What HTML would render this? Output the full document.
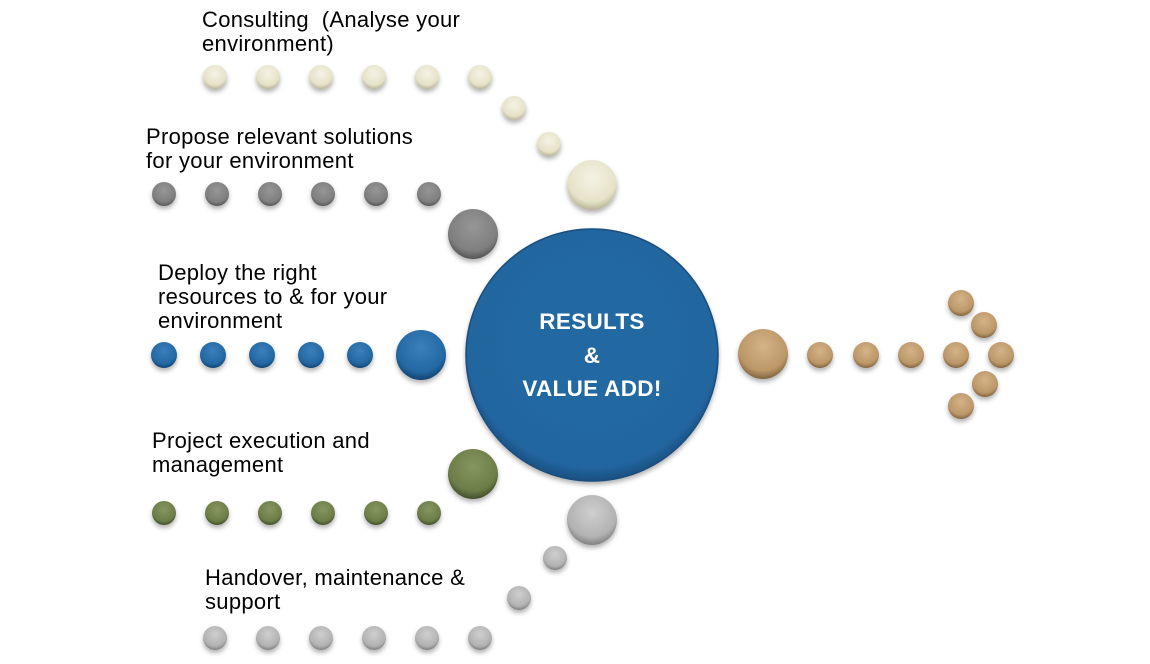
<!DOCTYPE html>
<html><head><meta charset="utf-8"><style>
html,body{margin:0;padding:0;background:#fff;}
svg{display:block;}
text{font-family:"Liberation Sans",Arial,sans-serif;font-size:22px;letter-spacing:0.3px;fill:#000;}
</style></head><body>
<svg width="1150" height="664" viewBox="0 0 1150 664" xmlns="http://www.w3.org/2000/svg">
<defs>
<filter id="sh" x="-30%" y="-30%" width="160%" height="170%"><feDropShadow dx="0" dy="3" stdDeviation="2.5" flood-color="#000" flood-opacity="0.3"/></filter>
<radialGradient id="cream" cx="50%" cy="35%" r="65%"><stop offset="0" stop-color="#f4f2e4"/><stop offset="0.75" stop-color="#e6e2c8"/><stop offset="1" stop-color="#b9b497"/></radialGradient>
<radialGradient id="gray" cx="50%" cy="35%" r="65%"><stop offset="0" stop-color="#969696"/><stop offset="0.75" stop-color="#7f7f7f"/><stop offset="1" stop-color="#555"/></radialGradient>
<radialGradient id="blue" cx="50%" cy="35%" r="65%"><stop offset="0" stop-color="#3a7fbb"/><stop offset="0.75" stop-color="#2468a3"/><stop offset="1" stop-color="#124470"/></radialGradient>
<radialGradient id="green" cx="50%" cy="35%" r="65%"><stop offset="0" stop-color="#869660"/><stop offset="0.75" stop-color="#6c7d48"/><stop offset="1" stop-color="#424f2a"/></radialGradient>
<radialGradient id="lgray" cx="50%" cy="35%" r="65%"><stop offset="0" stop-color="#cfcfcf"/><stop offset="0.75" stop-color="#b2b2b2"/><stop offset="1" stop-color="#808080"/></radialGradient>
<radialGradient id="tan" cx="50%" cy="35%" r="65%"><stop offset="0" stop-color="#d4b387"/><stop offset="0.75" stop-color="#bb9768"/><stop offset="1" stop-color="#826440"/></radialGradient>
<radialGradient id="main" cx="50%" cy="45%" r="55%"><stop offset="0" stop-color="#2468a2"/><stop offset="0.9" stop-color="#2266a0"/><stop offset="1" stop-color="#1a4f80"/></radialGradient>
</defs>

<g filter="url(#sh)">
<g fill="url(#cream)">
<circle cx="215" cy="77" r="12"/><circle cx="268" cy="77" r="12"/><circle cx="321" cy="77" r="12"/><circle cx="374" cy="77" r="12"/><circle cx="427" cy="77" r="12"/><circle cx="480" cy="77" r="12"/>
<circle cx="514" cy="108" r="12"/><circle cx="549" cy="144" r="12"/><circle cx="592" cy="185" r="25"/>
</g>
<g fill="url(#gray)">
<circle cx="164" cy="194" r="12"/><circle cx="217" cy="194" r="12"/><circle cx="270" cy="194" r="12"/><circle cx="323" cy="194" r="12"/><circle cx="376" cy="194" r="12"/><circle cx="429" cy="194" r="12"/>
<circle cx="473" cy="234" r="25"/>
</g>
<g fill="url(#blue)">
<circle cx="164" cy="355" r="13"/><circle cx="213" cy="355" r="13"/><circle cx="262" cy="355" r="13"/><circle cx="311" cy="355" r="13"/><circle cx="360" cy="355" r="13"/>
<circle cx="421" cy="355" r="25"/>
</g>
<g fill="url(#green)">
<circle cx="164" cy="513" r="12"/><circle cx="217" cy="513" r="12"/><circle cx="270" cy="513" r="12"/><circle cx="323" cy="513" r="12"/><circle cx="376" cy="513" r="12"/><circle cx="429" cy="513" r="12"/>
<circle cx="473" cy="474" r="25"/>
</g>
<g fill="url(#lgray)">
<circle cx="215" cy="638" r="12"/><circle cx="268" cy="638" r="12"/><circle cx="321" cy="638" r="12"/><circle cx="374" cy="638" r="12"/><circle cx="427" cy="638" r="12"/><circle cx="480" cy="638" r="12"/>
<circle cx="519" cy="598" r="12"/><circle cx="555" cy="558" r="12"/><circle cx="592" cy="520" r="25"/>
</g>
<g fill="url(#tan)">
<circle cx="763" cy="354" r="25"/>
<circle cx="820" cy="355" r="13"/><circle cx="866" cy="355" r="13"/><circle cx="911" cy="355" r="13"/><circle cx="956" cy="355" r="13"/><circle cx="1001" cy="355" r="13"/>
<circle cx="961" cy="303" r="13"/><circle cx="984" cy="325" r="13"/><circle cx="985" cy="384" r="13"/><circle cx="961" cy="406" r="13"/>
</g>
<circle cx="592" cy="355" r="126" fill="url(#main)" stroke="#1a4d7c" stroke-width="1.5"/>
</g>

<g text-anchor="middle">
<text x="592" y="329" style="fill:#fff;font-weight:bold;font-size:22.5px">RESULTS</text>
<text x="592" y="363" style="fill:#fff;font-weight:bold;font-size:22.5px">&amp;</text>
<text x="592" y="396" style="fill:#fff;font-weight:bold;font-size:22.5px">VALUE ADD!</text>
</g>

<text x="202" y="27" xml:space="preserve">Consulting  (Analyse your</text>
<text x="202" y="51">environment)</text>
<text x="146" y="144">Propose relevant solutions</text>
<text x="146" y="168">for your environment</text>
<text x="158" y="280">Deploy the right</text>
<text x="158" y="304">resources to &amp; for your</text>
<text x="158" y="328">environment</text>
<text x="152" y="448">Project execution and</text>
<text x="152" y="472">management</text>
<text x="205" y="585">Handover, maintenance &amp;</text>
<text x="205" y="609">support</text>
</svg>
</body></html>
